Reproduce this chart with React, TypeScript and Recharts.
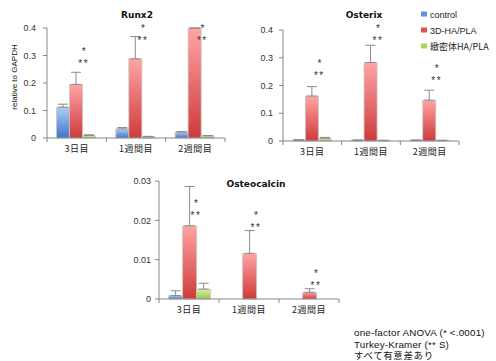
import React from 'react';
import { ComposedChart, Bar, ErrorBar, XAxis, YAxis, Scatter } from 'recharts';

const CATEGORIES = ['3日目', '1週間目', '2週間目'];
const SERIES_NAMES = ['control', '3D-HA/PLA', '緻密体HA/PLA'];

const RUNX2_CONTROL = [0.112, 0.033, 0.022];
const RUNX2_CONTROL_ERR = [0.011, 0.005, 0.001];
const RUNX2_3D = [0.195, 0.288, 0.4];
const RUNX2_3D_ERR = [0.044, 0.081, 0];
const RUNX2_DENSE = [0.0095, 0.005, 0.008];
const RUNX2_DENSE_ERR = [0.002, 0.001, 0.001];
const RUNX2_STARS = [0.283, 0.366, 0.366];
const RUNX2_TICKS = [0, 0.1, 0.2, 0.3, 0.4];

const OSTERIX_CONTROL = [0.004, 0.003, 0.003];
const OSTERIX_CONTROL_ERR = [0.001, 0.0005, 0.0005];
const OSTERIX_3D = [0.162, 0.283, 0.147];
const OSTERIX_3D_ERR = [0.034, 0.062, 0.036];
const OSTERIX_DENSE = [0.01, 0.002, 0.002];
const OSTERIX_DENSE_ERR = [0.003, 0.0005, 0.0005];
const OSTERIX_STARS = [0.248, 0.374, 0.229];
const OSTERIX_TICKS = [0, 0.1, 0.2, 0.3, 0.4];

const OSTEOCALCIN_CONTROL = [0.0009, 0, 0];
const OSTEOCALCIN_CONTROL_ERR = [0.0012, 0, 0];
const OSTEOCALCIN_3D = [0.0186, 0.0116, 0.0017];
const OSTEOCALCIN_3D_ERR = [0.01, 0.0058, 0.0009];
const OSTEOCALCIN_DENSE = [0.0025, 0, 0];
const OSTEOCALCIN_DENSE_ERR = [0.0015, 0, 0];
const OSTEOCALCIN_STARS = [0.0221, 0.0191, 0.0043];
const OSTEOCALCIN_TICKS = [0, 0.01, 0.02, 0.03];

const FOOTNOTE = ['one-factor ANOVA (* <.0001)', 'Turkey-Kramer (** S)', 'すべて有意差あり'];

function buildRows(c: number[], ce: number[], d: number[], de: number[], g: number[], ge: number[], s: number[]) {
  return CATEGORIES.map((cat, i) => ({
    cat,
    c: c[i], cE: [0, ce[i]],
    d: d[i], dE: [0, de[i]],
    g: g[i], gE: [0, ge[i]],
    star: s[i],
  }));
}

const AXIS = '#868686';
const ERR = '#8c8c8c';
const FONT = '"Liberation Sans", Arial, sans-serif';
const CJK = '"Noto Sans CJK JP", sans-serif';

type PanelProps = {
  id: string;
  left: number; top: number; width: number; height: number;
  margin: { top: number; right: number; bottom: number; left: number };
  yWidth: number; tickMargin: number;
  rows: any[]; max: number; ticks: number[];
};

function Panel(p: PanelProps) {
  const plotW = p.width - p.margin.left - p.margin.right - p.yWidth;
  const half = plotW / 6;
  const renderTick = (t: any) => (
    <g>
      <text x={t.x} y={t.y + 14} textAnchor="middle" fontSize={9} fontFamily={CJK} fill="#222" letterSpacing={0.5}>
        {t.payload.value}
      </text>
      <line x1={t.x - half} x2={t.x - half} y1={t.y} y2={t.y + 4} stroke={AXIS} />
      {t.index === CATEGORIES.length - 1 && (
        <line x1={t.x + half} x2={t.x + half} y1={t.y} y2={t.y + 4} stroke={AXIS} />
      )}
    </g>
  );
  const renderStar = (s: any) => (
    <g>
      <text x={s.cx + 7} y={s.cy - 5} textAnchor="middle" fontSize={10} fontFamily={FONT} fill="#333">*</text>
      <text x={s.cx + 7} y={s.cy + 7} textAnchor="middle" fontSize={10} fontFamily={FONT} fill="#333" letterSpacing={1.5}>**</text>
    </g>
  );
  return (
    <div style={{ position: 'absolute', left: p.left, top: p.top }}>
      <ComposedChart width={p.width} height={p.height} data={p.rows} margin={p.margin} barCategoryGap="16%" barGap={0}>
        <defs>
          <linearGradient id={p.id + 'b'} x1="0" y1="0" x2="0" y2="1">
            <stop offset="0" stopColor="#aecdf6" />
            <stop offset="1" stopColor="#3f75c6" />
          </linearGradient>
          <linearGradient id={p.id + 'r'} x1="0" y1="0" x2="0" y2="1">
            <stop offset="0" stopColor="#ffa4a4" />
            <stop offset="1" stopColor="#cf3a3a" />
          </linearGradient>
          <linearGradient id={p.id + 'g'} x1="0" y1="0" x2="0" y2="1">
            <stop offset="0" stopColor="#d9f1a9" />
            <stop offset="1" stopColor="#97c74f" />
          </linearGradient>
        </defs>
        <XAxis dataKey="cat" interval={0} tickLine={false} tickSize={0} tickMargin={0} height={20}
          axisLine={{ stroke: AXIS }} tick={renderTick} />
        <YAxis type="number" domain={[0, p.max]} ticks={p.ticks} interval={0}
          width={p.yWidth} tickSize={4} tickMargin={p.tickMargin}
          axisLine={{ stroke: AXIS }} tickLine={{ stroke: AXIS }}
          tickFormatter={(v: number) => (v === 0 ? '0' : String(v))}
          tick={{ fontSize: 9, fill: '#333', fontFamily: FONT }} />
        <Bar dataKey="c" fill={`url(#${p.id}b)`} stroke="#c4c4c4" strokeWidth={0.8} isAnimationActive={false}>
          <ErrorBar dataKey="cE" width={5} stroke={ERR} strokeWidth={1} direction="y" isAnimationActive={false} />
        </Bar>
        <Bar dataKey="d" fill={`url(#${p.id}r)`} stroke="#c4c4c4" strokeWidth={0.8} isAnimationActive={false}>
          <ErrorBar dataKey="dE" width={5} stroke={ERR} strokeWidth={1} direction="y" isAnimationActive={false} />
        </Bar>
        <Bar dataKey="g" fill={`url(#${p.id}g)`} stroke="#c4c4c4" strokeWidth={0.8} isAnimationActive={false}>
          <ErrorBar dataKey="gE" width={5} stroke={ERR} strokeWidth={1} direction="y" isAnimationActive={false} />
        </Bar>
        <Scatter dataKey="star" shape={renderStar} isAnimationActive={false} />
      </ComposedChart>
    </div>
  );
}

const LEGEND_COLORS = ['#5f93dc', '#e05252', '#a6d262'];

export default function App() {
  return (
    <div style={{ position: 'absolute', left: 0, top: 0, width: 496, height: 361, background: '#fff', overflow: 'hidden' }}>
      <Panel id="rx" left={0} top={0} width={240} height={165}
        margin={{ top: 28, right: 15, bottom: 7, left: 0 }} yWidth={47} tickMargin={7}
        rows={buildRows(RUNX2_CONTROL, RUNX2_CONTROL_ERR, RUNX2_3D, RUNX2_3D_ERR, RUNX2_DENSE, RUNX2_DENSE_ERR, RUNX2_STARS)}
        max={0.4} ticks={RUNX2_TICKS} />
      <Panel id="os" left={240} top={0} width={220} height={168}
        margin={{ top: 30, right: 1, bottom: 7, left: 0 }} yWidth={43} tickMargin={6}
        rows={buildRows(OSTERIX_CONTROL, OSTERIX_CONTROL_ERR, OSTERIX_3D, OSTERIX_3D_ERR, OSTERIX_DENSE, OSTERIX_DENSE_ERR, OSTERIX_STARS)}
        max={0.4} ticks={OSTERIX_TICKS} />
      <Panel id="oc" left={120} top={160} width={220} height={166}
        margin={{ top: 21, right: 1, bottom: 7, left: 0 }} yWidth={39} tickMargin={4}
        rows={buildRows(OSTEOCALCIN_CONTROL, OSTEOCALCIN_CONTROL_ERR, OSTEOCALCIN_3D, OSTEOCALCIN_3D_ERR, OSTEOCALCIN_DENSE, OSTEOCALCIN_DENSE_ERR, OSTEOCALCIN_STARS)}
        max={0.03} ticks={OSTEOCALCIN_TICKS} />
      <svg width={496} height={361} style={{ position: 'absolute', left: 0, top: 0, pointerEvents: 'none' }}>
        <text x={137} y={18} textAnchor="middle" fontSize={9} fontWeight="bold" fontFamily='"DejaVu Sans", sans-serif' fill="#111">Runx2</text>
        <text x={364} y={18} textAnchor="middle" fontSize={9} fontWeight="bold" fontFamily='"DejaVu Sans", sans-serif' fill="#111">Osterix</text>
        <text x={256} y={187} textAnchor="middle" fontSize={9} fontWeight="bold" fontFamily='"DejaVu Sans", sans-serif' fill="#111">Osteocalcin</text>
        <text x={17} y={77} transform="rotate(-90 17 77)" textAnchor="middle" fontSize={8} fontFamily={FONT} fill="#111">relative to GAPDH</text>
        {SERIES_NAMES.map((n, i) => (
          <g key={n}>
            <rect x={421} y={11.5 + i * 16} width={6} height={5} fill={LEGEND_COLORS[i]} />
            <text x={430} y={17.5 + i * 16} fontSize={9} fontFamily={n.startsWith('緻') ? CJK : FONT} fill="#222">{n}</text>
          </g>
        ))}
        {FOOTNOTE.map((t, i) => (
          <text key={t} x={354} y={336 + i * 11.5} fontSize={i === 2 ? 9.5 : 9.8}
            fontFamily={i === 2 ? CJK : FONT} letterSpacing={i === 2 ? 0.6 : 0.2} fill="#111">{t}</text>
        ))}
      </svg>
    </div>
  );
}
